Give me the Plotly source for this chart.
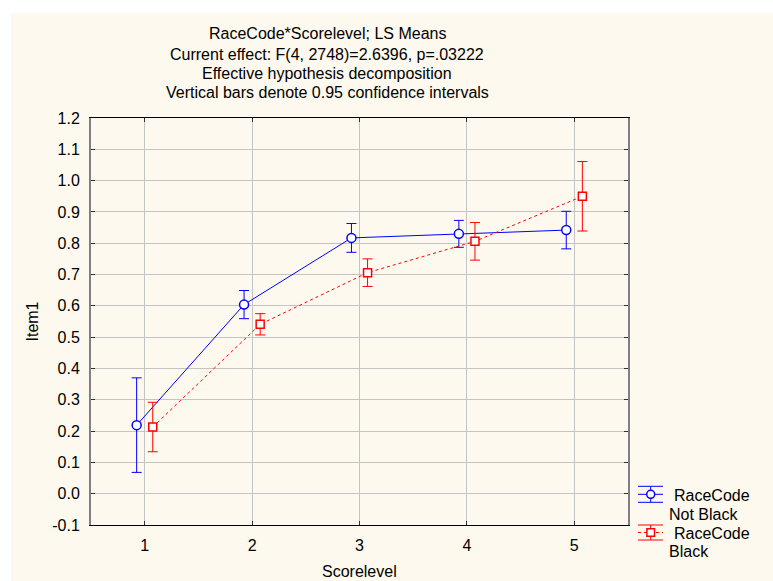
import plotly.graph_objects as go

# ---- data ----
scorelevels = [1, 2, 3, 4, 5]
notblack_mean = [0.219, 0.604, 0.817, 0.830, 0.842]
notblack_ci = [0.151, 0.045, 0.046, 0.043, 0.060]
black_mean = [0.213, 0.541, 0.706, 0.806, 0.950]
black_ci = [0.079, 0.034, 0.044, 0.060, 0.111]
ytick_vals = [-0.1, 0.0, 0.1, 0.2, 0.3, 0.4, 0.5, 0.6, 0.7, 0.8, 0.9, 1.0, 1.1, 1.2]
ytick_text = ["-0.1", "0.0", "0.1", "0.2", "0.3", "0.4", "0.5", "0.6", "0.7", "0.8", "0.9", "1.0", "1.1", "1.2"]
title_lines = [
    "RaceCode*Scorelevel; LS Means",
    "Current effect: F(4, 2748)=2.6396, p=.03222",
    "Effective hypothesis decomposition",
    "Vertical bars denote 0.95 confidence intervals",
]
legend_names = [("RaceCode", "Not Black"), ("RaceCode", "Black")]

# ---- layout geometry ----
W, H = 773, 581
L, R, T, B = 91, 628, 118, 525
FONT = "Liberation Sans, Arial, sans-serif"
CREAM = "#FDF9EE"
BLUE = "#0000FF"
RED = "#FF0000"
OFF = 0.075


def px(x):
    return (x - L) / (R - L)


def py(y):
    return (B - y) / (B - T)


fig = go.Figure()

fig.add_trace(go.Scatter(
    x=[s - OFF for s in scorelevels], y=notblack_mean, mode="lines+markers",
    line=dict(color=BLUE, width=1),
    marker=dict(symbol="circle", size=9, color="white", line=dict(color=BLUE, width=1.5)),
    error_y=dict(type="data", array=notblack_ci, color=BLUE, thickness=1, width=5),
    showlegend=False,
))
fig.add_trace(go.Scatter(
    x=[s + OFF for s in scorelevels], y=black_mean, mode="lines+markers",
    line=dict(color=RED, width=1, dash="dot"),
    marker=dict(symbol="square", size=8, color="white", line=dict(color=RED, width=1.5)),
    error_y=dict(type="data", array=black_ci, color=RED, thickness=1, width=5),
    showlegend=False,
))

shapes = []
# cream background panel
shapes.append(dict(type="rect", xref="paper", yref="paper", layer="below",
                   x0=px(11), x1=px(W + 2), y0=py(H + 2), y1=py(13),
                   fillcolor=CREAM, line=dict(width=0)))

annotations = []
title_y = [33, 54, 73.5, 92.5]
for txt, yy in zip(title_lines, title_y):
    annotations.append(dict(text=txt, xref="paper", yref="paper", x=px(327), y=py(yy),
                            xanchor="center", yanchor="middle", showarrow=False,
                            font=dict(family=FONT, size=16, color="black")))
annotations.append(dict(text="Item1", xref="paper", yref="paper", x=px(32), y=py(321.5),
                        xanchor="center", yanchor="middle", textangle=-90, showarrow=False,
                        font=dict(family=FONT, size=16, color="black")))
annotations.append(dict(text="Scorelevel", xref="paper", yref="paper", x=px(359), y=py(571),
                        xanchor="center", yanchor="middle", showarrow=False,
                        font=dict(family=FONT, size=16, color="black")))

# manual legend
leg = [
    dict(color=BLUE, dash="solid", cy=494.3, half=8, sym="circle", names=legend_names[0], t1=495, t2=514),
    dict(color=RED, dash="dot", cy=532.5, half=7.5, sym="square", names=legend_names[1], t1=533, t2=551.5),
]
sx0, sx1, scx = 638, 663, 650.7
for e in leg:
    c = e["color"]
    shapes.append(dict(type="line", xref="paper", yref="paper", x0=px(sx0), x1=px(sx1),
                       y0=py(e["cy"]), y1=py(e["cy"]), line=dict(color=c, width=1, dash=e["dash"])))
    for dy in (-e["half"], e["half"]):
        shapes.append(dict(type="line", xref="paper", yref="paper", x0=px(sx0), x1=px(sx1),
                           y0=py(e["cy"] + dy), y1=py(e["cy"] + dy), line=dict(color=c, width=1)))
    shapes.append(dict(type="line", xref="paper", yref="paper", x0=px(scx), x1=px(scx),
                       y0=py(e["cy"] - e["half"]), y1=py(e["cy"] + e["half"]), line=dict(color=c, width=1)))
    r = 4 if e["sym"] == "circle" else 3.8
    shapes.append(dict(type="circle" if e["sym"] == "circle" else "rect", xref="paper", yref="paper",
                       x0=px(scx - r), x1=px(scx + r), y0=py(e["cy"] + r), y1=py(e["cy"] - r),
                       fillcolor="white", line=dict(color=c, width=1.5)))
    annotations.append(dict(text=e["names"][0], xref="paper", yref="paper", x=px(671.5), y=py(e["t1"]),
                            xanchor="left", yanchor="middle", showarrow=False,
                            font=dict(family=FONT, size=16, color="black")))
    annotations.append(dict(text=e["names"][1], xref="paper", yref="paper", x=px(666.5), y=py(e["t2"]),
                            xanchor="left", yanchor="middle", showarrow=False,
                            font=dict(family=FONT, size=16, color="black")))

fig.update_layout(
    width=W, height=H,
    margin=dict(l=L, r=W - R, t=T, b=H - B, pad=0),
    paper_bgcolor="white", plot_bgcolor="white",
    font=dict(family=FONT, size=16, color="black"),
    shapes=shapes, annotations=annotations,
    hovermode=False,
    xaxis=dict(range=[0.5, 5.5], tickvals=scorelevels, ticktext=[str(s) for s in scorelevels],
               showgrid=True, gridcolor="#C4C4C4", gridwidth=1, zeroline=False,
               showline=True, linecolor="black", linewidth=1, mirror="ticks",
               ticks="inside", ticklen=4, tickcolor="#303030", ticklabelstandoff=6),
    yaxis=dict(range=[-0.1, 1.2], tickvals=ytick_vals, ticktext=ytick_text,
               showgrid=True, gridcolor="#C4C4C4", gridwidth=1, zeroline=False,
               showline=True, linecolor="#808080", linewidth=2, mirror="ticks",
               ticks="inside", ticklen=4, tickcolor="#303030", ticklabelstandoff=6),
)

fig.write_html("out.html", config={"displayModeBar": False},
               post_script="document.body.style.margin='0';document.body.style.overflow='hidden';")
